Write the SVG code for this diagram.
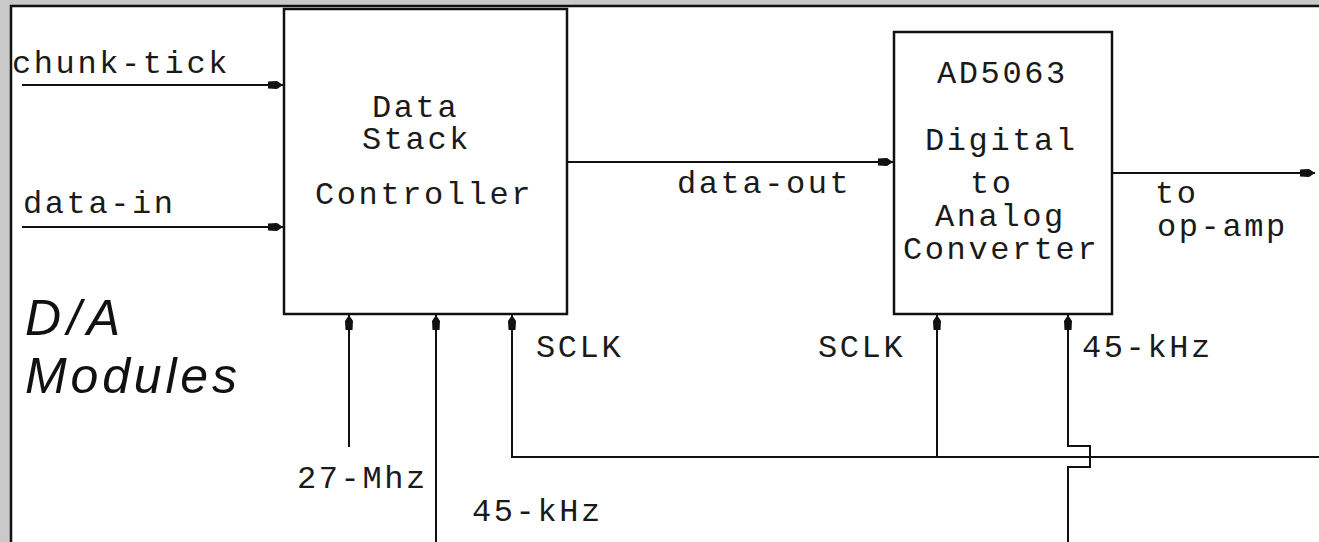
<svg xmlns="http://www.w3.org/2000/svg" width="1319" height="542" viewBox="0 0 1319 542">
<style>
.t{font-family:"Liberation Mono","DejaVu Sans Mono",monospace;font-size:32px;letter-spacing:2.6px;fill:#1a1a1a}
.box{fill:#fff;stroke:#111;stroke-width:2.5}
.ln{fill:none;stroke:#111;stroke-width:2}
.lab{font-family:"Liberation Sans",Arial,sans-serif;font-style:italic;font-size:50px;fill:#111}
</style>
<defs>
<marker id="ah" markerUnits="userSpaceOnUse" markerWidth="18" markerHeight="12" refX="15" refY="6" orient="auto">
<path d="M0,2.5 L9,2 L15,6 L9,10 L0,9.5 Z" fill="#111"/>
</marker>
</defs>
<rect x="0" y="0" width="1319" height="542" fill="#c9c9c9"/>
<rect x="11" y="6" width="1310" height="540" fill="#fff" stroke="#111" stroke-width="2.5"/>
<g id="title">
<text class="lab" x="25" y="335" textLength="95">D/A</text>
<text class="lab" x="25" y="393" textLength="212">Modules</text>
</g>
<g id="dsc">
<rect class="box" x="284" y="9" width="283" height="305"/>
<text class="t" x="372" y="117">Data</text>
<text class="t" x="362" y="149">Stack</text>
<text class="t" x="315" y="204">Controller</text>
</g>
<g id="dac">
<rect class="box" x="894" y="32" width="218" height="282"/>
<text class="t" x="937" y="83">AD5063</text>
<text class="t" x="925" y="150">Digital</text>
<text class="t" x="970" y="193">to</text>
<text class="t" x="935" y="226">Analog</text>
<text class="t" x="903" y="259">Converter</text>
</g>
<g id="connectors">
<line class="ln" x1="22" y1="85" x2="283" y2="85" marker-end="url(#ah)"/>
<line class="ln" x1="22" y1="227" x2="283" y2="227" marker-end="url(#ah)"/>
<line class="ln" x1="567" y1="162" x2="893" y2="162" marker-end="url(#ah)"/>
<line class="ln" x1="1112" y1="173" x2="1315" y2="173" marker-end="url(#ah)"/>
<line class="ln" x1="349" y1="447" x2="349" y2="315" marker-end="url(#ah)"/>
<line class="ln" x1="436" y1="545" x2="436" y2="315" marker-end="url(#ah)"/>
<path class="ln" d="M1322,457 L512,457 L512,315" marker-end="url(#ah)"/>
<line class="ln" x1="937" y1="457" x2="937" y2="315" marker-end="url(#ah)"/>
<path class="ln" d="M1068,545 L1068,467 L1090,467 L1090,446 L1068,446 L1068,315" marker-end="url(#ah)"/>
</g>
<g id="labels">
<text class="t" x="12" y="73">chunk-tick</text>
<text class="t" x="23" y="213">data-in</text>
<text class="t" x="677" y="193">data-out</text>
<text class="t" x="1155" y="203">to</text>
<text class="t" x="1157" y="236">op-amp</text>
<text class="t" x="297" y="488">27-Mhz</text>
<text class="t" x="472" y="521">45-kHz</text>
<text class="t" x="536" y="357">SCLK</text>
<text class="t" x="818" y="357">SCLK</text>
<text class="t" x="1082" y="357">45-kHz</text>
</g>
</svg>
